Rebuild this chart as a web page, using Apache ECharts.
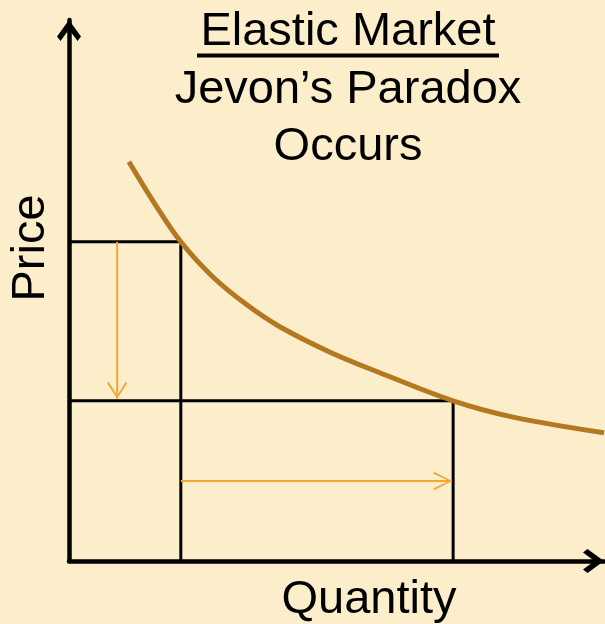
<!DOCTYPE html>
<html>
<head>
<meta charset="utf-8">
<title>Elastic Market</title>
<script src="https://cdn.jsdelivr.net/npm/echarts@6/dist/echarts.min.js"></script>
<style>
  html, body { margin: 0; padding: 0; background: #FCEDCB; }
  #main { width: 605px; height: 624px; }
</style>
</head>
<body>
<div id="main"></div>
<script>
// demand curve (quantity 0-10, price 0-10)
var curveQuantity = [1.12, 1.58, 2.09, 2.69, 3.33, 3.94, 4.88, 5.81, 7.18, 8.3, 10];
var curvePrice = [7.38, 6.64, 5.9, 5.25, 4.73, 4.33, 3.86, 3.48, 2.96, 2.66, 2.37];

// before / after points on the curve
var quantityBefore = 2.09, priceBefore = 5.9;
var quantityAfter = 7.18, priceAfter = 2.96;

// orange arrows: price drop and quantity rise
var priceArrowX = 0.9, priceArrowTo = 3.0;
var quantityArrowY = 1.48, quantityArrowTo = 7.16;

var axisMax = 10;

var titleLines = ['Elastic Market', 'Jevon\u2019s Paradox', 'Occurs'];
var xName = 'Quantity';
var yName = 'Price';

var upHead = 'path://M12,0 L24,16.5 L20.5,21 L12,9.5 L3.5,21 L0,16.5 Z';
var rightHead = 'path://M0,3.5 L4.5,0 L21,12 L4.5,24 L0,20.5 L11.5,12 Z';
var downArrow = 'path://M0,1.5 L1.5,0 L10,14 L18.5,0 L20,1.5 L10,17 Z';
var rightArrow = 'path://M0,1.5 L1.5,0 L19,9 L1.5,18 L0,16.5 L16,9 Z';

var font = "'Liberation Sans', Arial, sans-serif";

var curveData = curveQuantity.map(function (q, i) { return [q, curvePrice[i]]; });

function axis() {
  return {
    type: 'value',
    min: 0,
    max: axisMax,
    axisLine: {
      show: true,
      onZero: false,
      lineStyle: { color: '#000', width: 4.5 }
    },
    axisTick: { show: false },
    axisLabel: { show: false },
    splitLine: { show: false }
  };
}

function rect(q, p) {
  return {
    type: 'line',
    silent: true,
    symbol: 'none',
    lineStyle: { color: '#000', width: 3 },
    data: [[0, p], [q, p], [q, 0]],
    z: 2
  };
}

function head(point, path, size, offset) {
  return {
    type: 'line',
    silent: true,
    clip: false,
    symbol: path,
    symbolSize: size,
    symbolOffset: offset,
    itemStyle: { color: '#000' },
    lineStyle: { width: 0 },
    data: [point],
    z: 5
  };
}

var option = {
  backgroundColor: '#FCEDCB',
  animation: false,
  grid: { left: 69, right: 1, top: 20, bottom: 63 },
  xAxis: axis(),
  yAxis: axis(),
  graphic: [
    { type: 'text', x: 348, y: 32.5, style: { text: titleLines[0], font: '47px ' + font, fill: '#000', textAlign: 'center', textVerticalAlign: 'middle' } },
    { type: 'line', shape: { x1: 197, y1: 55.5, x2: 499, y2: 55.5 }, style: { stroke: '#000', lineWidth: 4 } },
    { type: 'text', x: 348, y: 90.5, style: { text: titleLines[1], font: '47px ' + font, fill: '#000', textAlign: 'center', textVerticalAlign: 'middle' } },
    { type: 'text', x: 348, y: 147, style: { text: titleLines[2], font: '47px ' + font, fill: '#000', textAlign: 'center', textVerticalAlign: 'middle' } },
    { type: 'text', x: 31.5, y: 248, rotation: Math.PI / 2, style: { text: yName, font: '47px ' + font, fill: '#000', textAlign: 'center', textVerticalAlign: 'middle' } },
    { type: 'text', x: 369, y: 600.5, style: { text: xName, font: '47px ' + font, fill: '#000', textAlign: 'center', textVerticalAlign: 'middle' } }
  ],
  series: [
    rect(quantityBefore, priceBefore),
    rect(quantityAfter, priceAfter),
    {
      type: 'line',
      silent: true,
      symbol: downArrow,
      symbolSize: [20, 17],
      symbolOffset: [0, '-50%'],
      itemStyle: { color: '#F5A532' },
      lineStyle: { color: '#F5A532', width: 2 },
      data: [{ value: [priceArrowX, priceBefore], symbol: 'none' }, [priceArrowX, priceArrowTo]],
      z: 3
    },
    {
      type: 'line',
      silent: true,
      symbol: rightArrow,
      symbolSize: [19, 18],
      symbolOffset: ['-50%', 0],
      itemStyle: { color: '#F5A532' },
      lineStyle: { color: '#F5A532', width: 2 },
      data: [{ value: [quantityBefore, quantityArrowY], symbol: 'none' }, [quantityArrowTo, quantityArrowY]],
      z: 3
    },
    {
      type: 'line',
      silent: true,
      symbol: 'none',
      smooth: 0.35,
      lineStyle: { color: '#B47820', width: 5 },
      data: curveData,
      z: 4
    },
    head([0, axisMax], upHead, [24, 21], [0, '50%']),
    head([axisMax, 0], rightHead, [21, 24], ['-50%', 0])
  ]
};

var myChart = echarts.init(document.getElementById('main'));
myChart.setOption(option);
</script>
</body>
</html>
